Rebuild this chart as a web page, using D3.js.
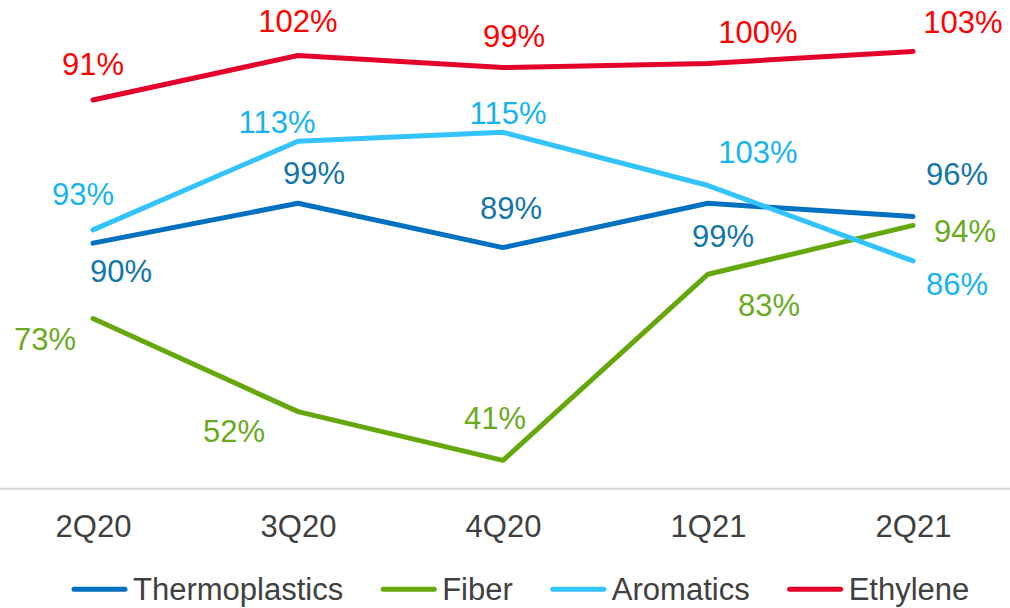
<!DOCTYPE html>
<html>
<head>
<meta charset="utf-8">
<script src="https://cdn.jsdelivr.net/npm/d3@7/dist/d3.min.js"></script>
<style>
  html, body { margin: 0; padding: 0; background: #ffffff; }
  svg { display: block; font-family: "Liberation Sans", Arial, sans-serif; }
</style>
</head>
<body>
<svg id="chart" width="1010" height="608"></svg>
<script>
// Quarters on the category axis
const quarters = ["2Q20", "3Q20", "4Q20", "1Q21", "2Q21"];

// Utilisation rates (%) per segment
const thermoplastics = [90, 99, 89, 99, 96];
const fiber          = [73, 52, 41, 83, 94];
const aromatics      = [93, 113, 115, 103, 86];
const ethylene       = [91, 102, 99, 100, 103];   // plotted on its own (secondary) scale

const seriesNames = ["Thermoplastics", "Fiber", "Aromatics", "Ethylene"];

// Data label placement relative to each point: [dx, dy] to the label's centre/baseline
const thermoLabelOffsets = [[28, 39], [16, -19], [8, -29], [15, 44], [44, -32]];
const fiberLabelOffsets  = [[-48, 31], [-64, 30], [-8, -31], [61, 42], [52, 17]];
const aromLabelOffsets   = [[-10, -25], [-21, -8], [5, -8], [50, -23], [44, 34]];
const ethyLabelOffsets   = [[0, -25], [0, -23], [11, -21], [50, -21], [50, -18]];

const svg = d3.select("#chart");
const W = 1010;
const baseY = 488.7;

const x = d3.scalePoint().domain(quarters).range([93, 913]);
const yPrimary = d3.scaleLinear().domain([35, 140]).range([487, 21.5]);
const ySecondary = d3.scaleLinear().domain([0, 110]).range([468.6, 23.05]);

const series = [
  { name: "Thermoplastics", values: thermoplastics, y: yPrimary,   line: "#0070C0", label: "#1276A8", offsets: thermoLabelOffsets },
  { name: "Fiber",          values: fiber,          y: yPrimary,   line: "#66A80C", label: "#6AAA1E", offsets: fiberLabelOffsets },
  { name: "Aromatics",      values: aromatics,      y: yPrimary,   line: "#33C4FF", label: "#16B4EE", offsets: aromLabelOffsets },
  { name: "Ethylene",       values: ethylene,       y: ySecondary, line: "#E4002B", label: "#FF0000", offsets: ethyLabelOffsets }
];

// Category axis baseline across the full width
svg.append("line")
  .attr("x1", 0).attr("x2", W)
  .attr("y1", baseY).attr("y2", baseY)
  .attr("stroke", "#D9D9D9").attr("stroke-width", 2);

// Category tick labels
const xAxis = svg.append("g")
  .attr("transform", `translate(0,${baseY})`)
  .call(d3.axisBottom(x).tickSize(0).tickPadding(26));
xAxis.select(".domain").remove();
xAxis.selectAll("text")
  .attr("fill", "#404040")
  .style("font-size", "31px")
  .style("font-family", "'Liberation Sans', Arial, sans-serif");

// Lines
series.forEach(s => {
  const line = d3.line()
    .x((d, i) => x(quarters[i]))
    .y(d => s.y(d));
  svg.append("path")
    .datum(s.values)
    .attr("d", line)
    .attr("fill", "none")
    .attr("stroke", s.line)
    .attr("stroke-width", 5)
    .attr("stroke-linecap", "round")
    .attr("stroke-linejoin", "round");
});

// Data labels
series.forEach(s => {
  svg.append("g")
    .selectAll("text")
    .data(s.values)
    .join("text")
    .attr("x", (d, i) => x(quarters[i]) + s.offsets[i][0])
    .attr("y", (d, i) => s.y(d) + s.offsets[i][1])
    .attr("text-anchor", "middle")
    .attr("fill", s.label)
    .style("font-size", "31px")
    .text(d => d + "%");
});

// Legend
const legend = svg.append("g");
let lx = 72;
series.forEach(s => {
  legend.append("line")
    .attr("x1", lx + 2).attr("x2", lx + 53)
    .attr("y1", 589.3).attr("y2", 589.3)
    .attr("stroke", s.line)
    .attr("stroke-width", 5)
    .attr("stroke-linecap", "round");
  const t = legend.append("text")
    .attr("x", lx + 61)
    .attr("y", 599.5)
    .attr("fill", "#404040")
    .style("font-size", "31px")
    .text(s.name);
  lx = lx + 61 + t.node().getComputedTextLength() + 38;
});
</script>
</body>
</html>
